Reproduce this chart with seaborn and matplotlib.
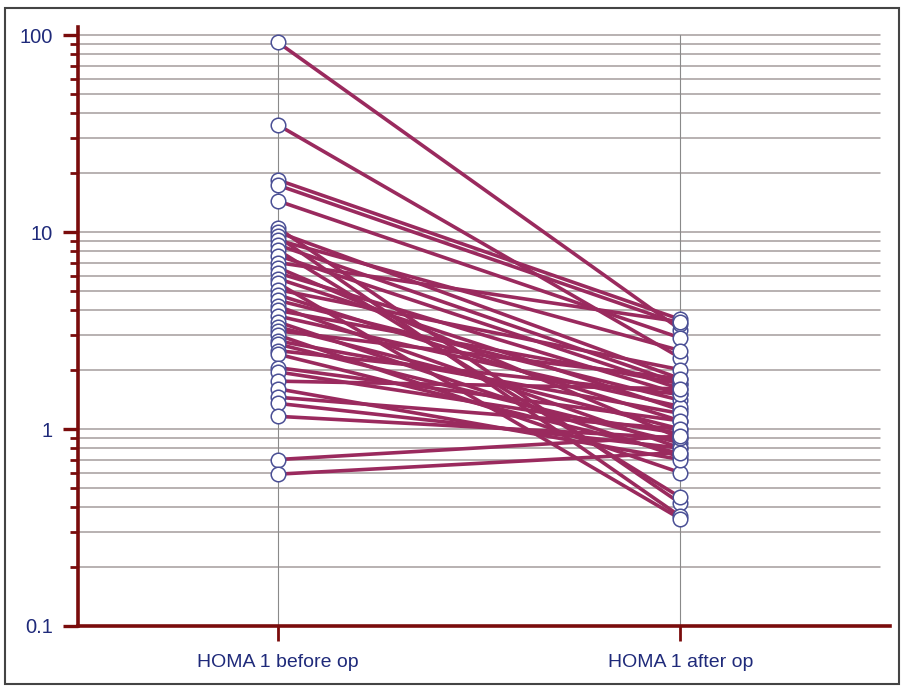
import numpy as np
import pandas as pd
import matplotlib
matplotlib.use("Agg")
import matplotlib.pyplot as plt
import seaborn as sns
from matplotlib.ticker import FixedLocator, NullFormatter
from matplotlib.patches import Rectangle

# HOMA 1 values per patient
before_op = [92, 35, 18.4, 17.3, 14.4, 10.5, 10.0, 9.5, 9.1, 8.6, 8.1, 7.6, 7.0, 6.6,
             6.2, 5.8, 5.5, 5.1, 4.8, 4.5, 4.2, 4.0, 3.75, 3.5, 3.3, 3.15, 3.0, 2.8,
             2.7, 2.5, 2.4, 2.05, 1.95, 1.75, 1.6, 1.45, 1.35, 1.16, 0.70, 0.59]
after_op = [3.2, 2.3, 3.6, 3.4, 2.9, 0.42, 1.8, 0.36, 2.5, 1.7, 0.45, 1.6, 3.5, 0.9,
            1.5, 1.25, 0.35, 2.0, 1.1, 1.4, 0.8, 1.7, 1.3, 0.72, 1.0, 1.8, 0.6, 1.2,
            0.85, 1.5, 0.75, 1.1, 0.95, 1.6, 0.7, 1.0, 0.8, 0.9, 0.92, 0.76]
categories = ["HOMA 1 before op", "HOMA 1 after op"]
y_labels = ["0.1", "1", "10", "100"]

LINE = "#9a2a5e"
AXIS = "#7a0c0c"
TEXT = "#1f2a7a"
GRID = "#a49c9c"

n = len(before_op)
df = pd.DataFrame({
    "id": list(range(n)) * 2,
    "pos": [0] * n + [1] * n,
    "value": before_op + after_op,
})

sns.set_style("white")
plt.rcParams["font.family"] = ["Liberation Sans", "DejaVu Sans"]

fig = plt.figure(figsize=(9.04, 6.87), dpi=100)
ax = fig.add_axes([0.0863, 0.0888, 0.898, 0.872])

ax.set_yscale("log")
ax.set_ylim(0.1, 110)
ax.set_xlim(-0.496, 1.52)

# grid lines at every 1..9 x decade
grid_vals = [m * 10.0 ** e for e in (-1, 0, 1) for m in range(1, 10)] + [100]
for g in grid_vals[1:]:
    ax.plot([-0.496, 1.495], [g, g], color=GRID, lw=1.1, zorder=0)
for p in (0, 1):
    ax.plot([p, p], [0.1, 100], color="#8a8a8a", lw=0.8, zorder=0)

sns.lineplot(data=df, x="pos", y="value", units="id", estimator=None,
             color=LINE, lw=2.6, ax=ax, zorder=2, legend=False)
sns.scatterplot(data=df, x="pos", y="value", s=110, facecolor="white",
                edgecolor="#4a4f95", linewidth=1.1, ax=ax, zorder=3, legend=False)

# axes styling
for s in ("top", "right"):
    ax.spines[s].set_visible(False)
for s in ("left", "bottom"):
    ax.spines[s].set_color(AXIS)
    ax.spines[s].set_linewidth(2.6)

ax.yaxis.set_major_locator(FixedLocator([0.1, 1, 10, 100]))
ax.yaxis.set_minor_locator(FixedLocator([v for v in grid_vals if v not in (0.1, 1, 10, 100)]))
ax.yaxis.set_minor_formatter(NullFormatter())
ax.set_yticklabels(y_labels)
ax.tick_params(axis="y", which="major", length=11, width=2.4, color=AXIS,
               labelcolor=TEXT, labelsize=14.5, pad=7, left=True)
ax.tick_params(axis="y", which="minor", length=6, width=2.0, color=AXIS, left=True)

ax.set_xticks([0, 1])
ax.set_xticklabels(categories)
ax.tick_params(axis="x", length=11, width=2.0, color=AXIS, labelcolor=TEXT,
               labelsize=14, pad=9, bottom=True)
ax.set_xlabel("")
ax.set_ylabel("")

# outer frame
fig.patches.append(Rectangle((0.006, 0.004), 0.988, 0.985, transform=fig.transFigure,
                             fill=False, edgecolor="#444444", lw=1.5))

fig.savefig("out.png", dpi=100)
